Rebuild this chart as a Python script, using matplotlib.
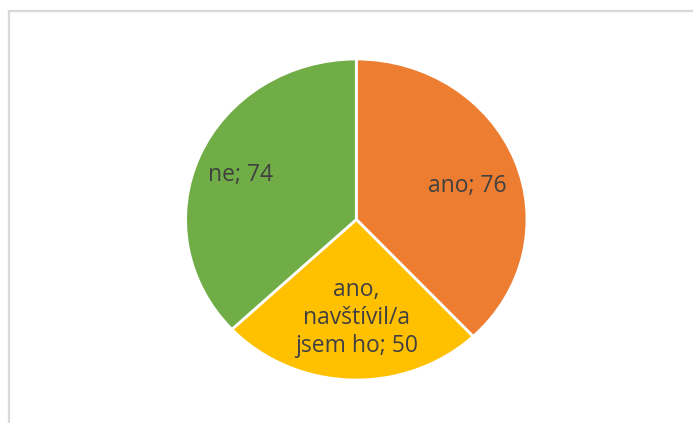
import matplotlib.pyplot as plt
from matplotlib.lines import Line2D

labels = ["ano", "ano,\nnavštívil/a\njsem ho", "ne"]
values = [76, 50, 74]
colors = ["#ED7D31", "#FFC000", "#70AD47"]
# label centres (data units, pie radius = 1)
label_pos = [(0.65, 0.21), (0.0, -0.615), (-0.68, 0.28)]

W, H = 693, 423
fig = plt.figure(figsize=(W / 100, H / 100), dpi=100)

# chart area frame (only top and left edges visible)
fig.add_artist(Line2D([9 / W, 9 / W], [0, 1 - 11 / H], color="#d9d9d9", lw=1.6))
fig.add_artist(Line2D([9 / W, 1], [1 - 11 / H, 1 - 11 / H], color="#d9d9d9", lw=1.6))

cx, cy, rx, ry = 356.3, 219.5, 170.7, 160.5
ax = fig.add_axes([(cx - rx) / W, (H - cy - ry) / H, 2 * rx / W, 2 * ry / H])
ax.pie(values, colors=colors, startangle=90, counterclock=False,
       wedgeprops=dict(edgecolor="white", linewidth=2))
ax.set_aspect("auto")
ax.set_xlim(-1, 1)
ax.set_ylim(-1, 1)

for lab, val, (x, y) in zip(labels, values, label_pos):
    ax.text(x, y, f"{lab}; {val}", ha="center", va="center",
            fontsize=16.5, color="#404040", linespacing=1.22,
            family="Open Sans")

fig.savefig("out.png", dpi=100)
